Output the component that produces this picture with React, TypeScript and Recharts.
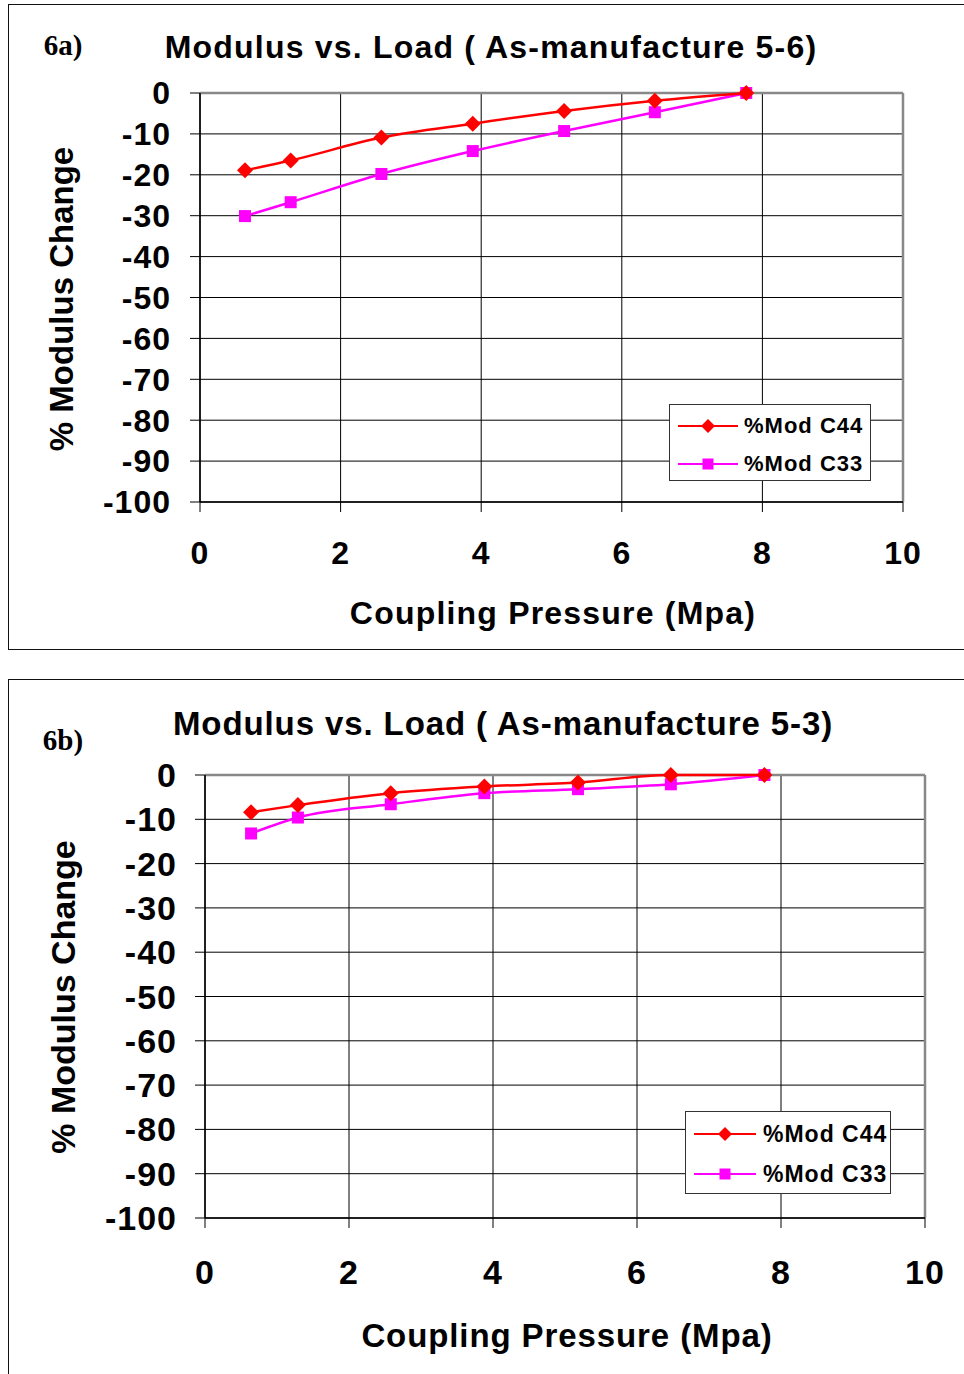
import React from 'react';
import { LineChart, Line, XAxis, YAxis, CartesianGrid, Legend, ReferenceLine } from 'recharts';

// coupling pressure (MPa), same steps for both samples
const pressure = [0.64, 1.29, 2.58, 3.88, 5.18, 6.47, 7.77];

// % modulus change, sample 5-6
const c44Sample56 = [-18.9, -16.5, -10.9, -7.5, -4.4, -1.9, 0];
const c33Sample56 = [-30.1, -26.7, -19.8, -14.2, -9.3, -4.7, 0];

// % modulus change, sample 5-3
const c44Sample53 = [-8.4, -6.8, -4.1, -2.6, -1.7, 0, 0];
const c33Sample53 = [-13.2, -9.6, -6.6, -4.1, -3.2, -2.1, 0];

const xTicks = [0, 2, 4, 6, 8, 10];
const yTicks = [0, -10, -20, -30, -40, -50, -60, -70, -80, -90, -100];

const RED = '#FF0000';
const MAGENTA = '#FF00FF';
const FONT = '"Liberation Sans", Arial, sans-serif';

const Diamond = (props: any) => {
  const { cx, cy, r = 8 } = props;
  if (cx == null || cy == null) return null;
  return <path d={`M${cx},${cy - r}L${cx + r},${cy}L${cx},${cy + r}L${cx - r},${cy}Z`} fill={RED} />;
};

const Square = (props: any) => {
  const { cx, cy, s = 12 } = props;
  if (cx == null || cy == null) return null;
  return <rect x={cx - s / 2} y={cy - s / 2} width={s} height={s} fill={MAGENTA} />;
};

interface PanelProps {
  top: number;
  height: number;
  label: string;
  title: string;
  c44: number[];
  c33: number[];
  margin: { top: number; right: number; bottom: number; left: number };
  tickFont: number;
  tickMarginX: number;
  tickMarginY: number;
  textFont: number;
  spacing: number;
  titleAt: [number, number];
  labelAt: [number, number];
  xTitleAt: [number, number];
  yTitleAt: [number, number];
  legendBox: { left: number; top: number; width: number; height: number; rows: [number, number]; line: [number, number]; text: number; font: number };
}

function Panel(p: PanelProps) {
  const data = pressure.map((x, i) => ({ x, c44: p.c44[i], c33: p.c33[i] }));
  const lb = p.legendBox;
  const tick = { fontSize: p.tickFont, fontWeight: 'bold', fill: '#000', fontFamily: FONT, letterSpacing: 1 };

  const legendRow = (y: number, color: string, name: string, marker: React.ReactNode) => (
    <div key={name} style={{ position: 'absolute', left: 0, top: y - 15, height: 30, width: '100%' }}>
      <svg width={lb.line[1] + 4} height={30} style={{ position: 'absolute', left: 0, top: 0 }}>
        <line x1={lb.line[0]} x2={lb.line[1]} y1={15} y2={15} stroke={color} strokeWidth={2} />
        {marker}
      </svg>
      <span style={{ position: 'absolute', left: lb.text, top: 15, transform: 'translateY(-50%)', fontSize: lb.font, fontWeight: 'bold', fontFamily: FONT, letterSpacing: 1, whiteSpace: 'nowrap', color: '#000' }}>{name}</span>
    </div>
  );

  const mid = (lb.line[0] + lb.line[1]) / 2;

  return (
    <div style={{ position: 'absolute', left: 0, top: p.top, width: 964, height: p.height }}>
      <LineChart width={964} height={p.height} data={data} margin={p.margin}>
        <CartesianGrid stroke="#000" strokeWidth={1} />
        <XAxis
          dataKey="x"
          type="number"
          domain={[0, 10]}
          ticks={xTicks}
          height={60}
          axisLine={{ stroke: '#000', strokeWidth: 1.5 }}
          tickLine={{ stroke: '#000' }}
          tickSize={10}
          tickMargin={p.tickMarginX}
          tick={tick}
          interval={0}
        />
        <YAxis
          type="number"
          domain={[-100, 0]}
          ticks={yTicks}
          width={100}
          axisLine={{ stroke: '#000', strokeWidth: 1.5 }}
          tickLine={{ stroke: '#000' }}
          tickSize={10}
          tickMargin={p.tickMarginY}
          tick={tick}
          interval={0}
        />
        <ReferenceLine y={0} stroke="#888" strokeWidth={2.5} />
        <ReferenceLine x={10} stroke="#888" strokeWidth={2.5} />
        <Line
          type="monotone"
          dataKey="c33"
          name="%Mod C33"
          stroke={MAGENTA}
          strokeWidth={2.5}
          dot={(d: any) => <Square key={`s${d.index}`} cx={d.cx} cy={d.cy} />}
          activeDot={false}
          isAnimationActive={false}
        />
        <Line
          type="monotone"
          dataKey="c44"
          name="%Mod C44"
          stroke={RED}
          strokeWidth={2.5}
          dot={(d: any) => <Diamond key={`d${d.index}`} cx={d.cx} cy={d.cy} />}
          activeDot={false}
          isAnimationActive={false}
        />
        <Legend
          layout="vertical"
          align="center"
          verticalAlign="middle"
          wrapperStyle={{ left: lb.left, top: lb.top, width: lb.width, height: lb.height }}
          content={() => (
            <div style={{ position: 'relative', width: lb.width, height: lb.height, border: '1px solid #333', boxSizing: 'border-box', background: '#fff' }}>
              {legendRow(lb.rows[0], RED, '%Mod C44', <Diamond cx={mid} cy={15} r={7} />)}
              {legendRow(lb.rows[1], MAGENTA, '%Mod C33', <Square cx={mid} cy={15} s={11} />)}
            </div>
          )}
        />
      </LineChart>
      <div style={{ position: 'absolute', left: p.labelAt[0], top: p.labelAt[1], transform: 'translate(-50%,-50%)', fontFamily: '"Liberation Serif", "Times New Roman", serif', fontWeight: 'bold', fontSize: 29, whiteSpace: 'nowrap' }}>{p.label}</div>
      <div style={{ position: 'absolute', left: p.titleAt[0], top: p.titleAt[1], transform: 'translate(-50%,-50%)', fontFamily: FONT, fontWeight: 'bold', fontSize: p.textFont, letterSpacing: p.spacing, whiteSpace: 'nowrap' }}>{p.title}</div>
      <div style={{ position: 'absolute', left: p.xTitleAt[0], top: p.xTitleAt[1], transform: 'translate(-50%,-50%)', fontFamily: FONT, fontWeight: 'bold', fontSize: p.textFont, letterSpacing: p.spacing, whiteSpace: 'nowrap' }}>Coupling Pressure (Mpa)</div>
      <div style={{ position: 'absolute', left: p.yTitleAt[0], top: p.yTitleAt[1], transform: 'translate(-50%,-50%) rotate(-90deg)', fontFamily: FONT, fontWeight: 'bold', fontSize: p.textFont + 1, whiteSpace: 'nowrap' }}>% Modulus Change</div>
    </div>
  );
}

export default function App() {
  return (
    <div style={{ position: 'relative', width: 964, height: 1374, overflow: 'hidden', background: '#fff' }}>
      <style>{'body{margin:0}'}</style>
      <div style={{ position: 'absolute', left: 8, top: 4, width: 1000, height: 646, border: '1.5px solid #111', boxSizing: 'border-box' }} />
      <div style={{ position: 'absolute', left: 8, top: 679, width: 1000, height: 720, border: '1.5px solid #111', boxSizing: 'border-box' }} />
      <Panel
        top={0}
        height={650}
        label="6a)"
        title="Modulus vs. Load ( As-manufacture 5-6)"
        c44={c44Sample56}
        c33={c33Sample56}
        margin={{ top: 93, right: 61, bottom: 88, left: 100 }}
        tickFont={32}
        tickMarginX={29}
        tickMarginY={19}
        textFont={32}
        spacing={1.2}
        titleAt={[491, 47]}
        labelAt={[63, 45]}
        xTitleAt={[553, 613]}
        yTitleAt={[62, 299]}
        legendBox={{ left: 669, top: 404, width: 202, height: 77, rows: [21, 59], line: [8, 68], text: 74, font: 22 }}
      />
      <Panel
        top={660}
        height={714}
        label="6b)"
        title="Modulus vs. Load ( As-manufacture 5-3)"
        c44={c44Sample53}
        c33={c33Sample53}
        margin={{ top: 115, right: 39, bottom: 96, left: 105 }}
        tickFont={34}
        tickMarginX={32}
        tickMarginY={18}
        textFont={33}
        spacing={0.9}
        titleAt={[503, 64]}
        labelAt={[63, 80]}
        xTitleAt={[567, 676]}
        yTitleAt={[63, 337]}
        legendBox={{ left: 685, top: 451, width: 206, height: 83, rows: [22, 62], line: [8, 70], text: 77, font: 23 }}
      />
    </div>
  );
}
